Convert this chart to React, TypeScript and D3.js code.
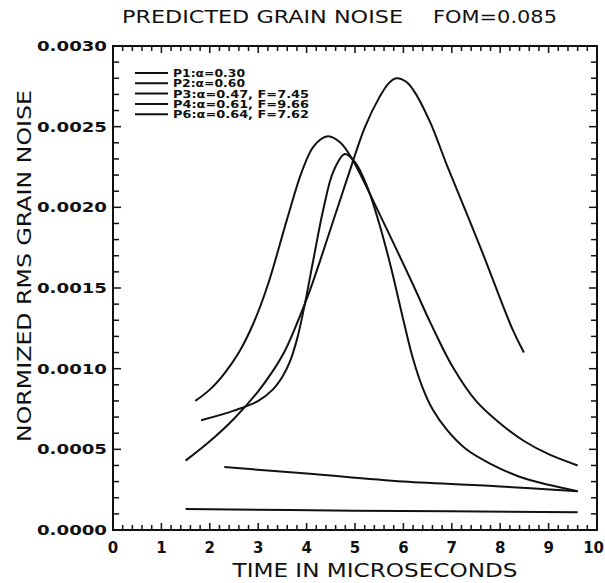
import React from "react";
import * as d3 from "d3";

const W = 605;
const H = 583;

const xTickLabels = ["0", "1", "2", "3", "4", "5", "6", "7", "8", "9", "10"];
const yTickLabels = ["0.0000", "0.0005", "0.0010", "0.0015", "0.0020", "0.0025", "0.0030"];
const yTickValues = [0, 0.0005, 0.001, 0.0015, 0.002, 0.0025, 0.003];

const legendLabels = [
  "P1:α=0.30",
  "P2:α=0.60",
  "P3:α=0.47, F=7.45",
  "P4:α=0.61, F=9.66",
  "P6:α=0.64, F=7.62",
];

// curve with the earliest peak (~4.4 us)
const curveAx = [1.7, 2.0, 2.3, 2.6, 2.9, 3.2, 3.6, 3.9, 4.15, 4.44, 4.7, 4.94, 5.52, 6.2, 6.55, 7.02, 7.5, 8.0, 8.5, 9.0, 9.6];
const curveAy = [0.0008, 0.00087, 0.00097, 0.0011, 0.00128, 0.00152, 0.00193, 0.00222, 0.00238, 0.00244, 0.0024, 0.0023, 0.00195, 0.00152, 0.00129, 0.00101, 0.0008, 0.00066, 0.00055, 0.00047, 0.0004];

// curve with peak ~4.8 us
const curveBx = [1.82, 2.5, 3.0, 3.3, 3.5, 3.65, 3.8, 3.95, 4.13, 4.34, 4.55, 4.79, 5.0, 5.25, 5.5, 5.75, 6.0, 6.2, 6.4, 6.6, 6.9, 7.3, 7.8, 8.4, 9.0, 9.6];
const curveBy = [0.00068, 0.00074, 0.0008, 0.00087, 0.00095, 0.00104, 0.00118, 0.00138, 0.00166, 0.00198, 0.00222, 0.00233, 0.00228, 0.00213, 0.0019, 0.00162, 0.0013, 0.00106, 0.00088, 0.00075, 0.00062, 0.0005, 0.00041, 0.00033, 0.00028, 0.00024];

// tallest curve, peak ~5.85 us
const curveCx = [1.5, 2.0, 2.5, 3.0, 3.29, 3.55, 3.8, 4.05, 4.28, 4.83, 5.21, 5.5, 5.7, 5.85, 6.05, 6.2, 6.55, 6.9, 7.58, 8.26, 8.49];
const curveCy = [0.00043, 0.00055, 0.00069, 0.00086, 0.00098, 0.00111, 0.00128, 0.00147, 0.00167, 0.00217, 0.0025, 0.00268, 0.00277, 0.0028, 0.00278, 0.00273, 0.00253, 0.00226, 0.00176, 0.00124, 0.0011];

// slowly declining line
const lineDx = [2.3, 4.0, 6.0, 8.0, 9.6];
const lineDy = [0.00039, 0.00035, 0.0003, 0.00027, 0.00024];

// nearly flat bottom line
const lineEx = [1.5, 5.0, 9.6];
const lineEy = [0.00013, 0.00012, 0.00011];

const plotLeft = 113;
const plotRight = 597;
const plotTop = 46;
const plotBottom = 530;

export default function App() {
  const x = d3.scaleLinear().domain([0, 10]).range([plotLeft, plotRight]);
  const y = d3.scaleLinear().domain([0, 0.003]).range([plotBottom, plotTop]);

  const line = d3
    .line<[number, number]>()
    .x((d) => x(d[0]))
    .y((d) => y(d[1]))
    .curve(d3.curveCatmullRom.alpha(0.5));

  const series = [
    [curveAx, curveAy],
    [curveBx, curveBy],
    [curveCx, curveCy],
    [lineDx, lineDy],
    [lineEx, lineEy],
  ].map(([xs, ys]) => xs.map((v, i) => [v, ys[i]] as [number, number]));

  const xMinor = d3.range(0, 50.5, 1).map((i) => i * 0.2);
  const yMinor = d3.range(0, 30.5, 1).map((i) => i * 0.0001);

  const font = "'DejaVu Sans', sans-serif";

  return (
    <svg
      width={W}
      height={H}
      style={{ position: "absolute", left: 0, top: 0, background: "#fff" }}
    >
      <rect x={0} y={0} width={W} height={H} fill="#fff" />
      {/* title */}
      <text
        x={122}
        y={23}
        fontFamily={font}
        fontSize={18}
        textLength={281}
        lengthAdjust="spacingAndGlyphs"
        fill="#111"
      >
        PREDICTED GRAIN NOISE
      </text>
      <text
        x={433}
        y={23}
        fontFamily={font}
        fontSize={18}
        textLength={124}
        lengthAdjust="spacingAndGlyphs"
        fill="#111"
      >
        FOM=0.085
      </text>

      {/* frame */}
      <rect
        x={plotLeft}
        y={plotTop}
        width={plotRight - plotLeft}
        height={plotBottom - plotTop}
        fill="none"
        stroke="#111"
        strokeWidth={2}
      />

      {/* x ticks (bottom and top, inward) */}
      {xMinor.map((v, i) => {
        const major = i % 5 === 0;
        const len = major ? 7 : 5;
        return (
          <g key={"xt" + i}>
            <line x1={x(v)} x2={x(v)} y1={plotBottom} y2={plotBottom - len} stroke="#111" strokeWidth={1.5} />
            <line x1={x(v)} x2={x(v)} y1={plotTop} y2={plotTop + len} stroke="#111" strokeWidth={1.5} />
          </g>
        );
      })}
      {/* y ticks (left and right, inward) */}
      {yMinor.map((v, i) => {
        const major = i % 5 === 0;
        const len = major ? 8 : 6;
        return (
          <g key={"yt" + i}>
            <line x1={plotLeft} x2={plotLeft + len} y1={y(v)} y2={y(v)} stroke="#111" strokeWidth={1.5} />
            <line x1={plotRight} x2={plotRight - len} y1={y(v)} y2={y(v)} stroke="#111" strokeWidth={1.5} />
          </g>
        );
      })}

      {/* x tick labels */}
      {xTickLabels.map((t, i) => {
        const last = i === xTickLabels.length - 1;
        return (
          <text
            key={"xl" + i}
            x={last ? 604 : x(i)}
            y={553}
            textAnchor={last ? "end" : "middle"}
            fontFamily={font}
            fontSize={15}
            fontWeight="bold"
            fill="#111"
          >
            {t}
          </text>
        );
      })}
      {/* y tick labels */}
      {yTickLabels.map((t, i) => (
        <text
          key={"yl" + i}
          x={107}
          y={y(yTickValues[i]) + 5}
          textAnchor="end"
          fontFamily={font}
          fontSize={14}
          fontWeight="bold"
          textLength={70}
          lengthAdjust="spacingAndGlyphs"
          fill="#111"
        >
          {t}
        </text>
      ))}

      {/* axis titles */}
      <text
        x={375}
        y={577}
        textAnchor="middle"
        fontFamily={font}
        fontSize={19}
        textLength={285}
        lengthAdjust="spacingAndGlyphs"
        fill="#111"
      >
        TIME IN MICROSECONDS
      </text>
      <text
        transform="translate(31,266) rotate(-90)"
        textAnchor="middle"
        fontFamily={font}
        fontSize={19}
        textLength={352}
        lengthAdjust="spacingAndGlyphs"
        fill="#111"
      >
        NORMIZED RMS GRAIN NOISE
      </text>

      {/* legend */}
      {legendLabels.map((t, i) => {
        const ly = 73 + i * 10.3;
        return (
          <g key={"lg" + i}>
            <line x1={135} x2={168} y1={ly} y2={ly} stroke="#111" strokeWidth={2} />
            <text
              x={173}
              y={ly + 4}
              fontFamily={font}
              fontSize={10}
              fontWeight="bold"
              textLength={t.length * 8}
              lengthAdjust="spacingAndGlyphs"
              fill="#111"
            >
              {t}
            </text>
          </g>
        );
      })}

      {/* curves */}
      {series.map((s, i) => (
        <path key={"s" + i} d={line(s) || ""} fill="none" stroke="#111" strokeWidth={2} />
      ))}
    </svg>
  );
}
